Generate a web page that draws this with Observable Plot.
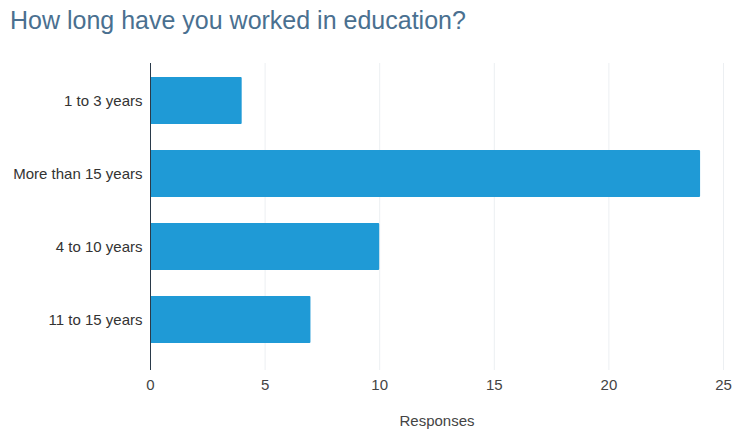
<!DOCTYPE html>
<html><head><meta charset="utf-8">
<script src="https://cdn.jsdelivr.net/npm/d3@7"></script>
<script src="https://cdn.jsdelivr.net/npm/@observablehq/plot@0.6"></script>
<style>
body{margin:0;background:#fff;font-family:"Liberation Sans",Arial,sans-serif;}
#title{height:45px;box-sizing:border-box;padding:5px 0 0 10px;font-size:25px;line-height:30px;color:#4a7090;}
</style></head>
<body>
<div id="title">How long have you worked in education?</div>
<div id="chart"></div>
<script>
const categories = ["1 to 3 years", "More than 15 years", "4 to 10 years", "11 to 15 years"];
const responses = [4, 24, 10, 7];
const xTicks = [0, 5, 10, 15, 20, 25];
const data = categories.map((c, i) => ({category: c, value: responses[i]}));

const chart = Plot.plot({
  width: 736,
  height: 386,
  marginLeft: 150,
  marginRight: 13,
  marginTop: 18,
  marginBottom: 61,
  style: {fontFamily: "'Liberation Sans', Arial, sans-serif", fontSize: "15px", color: "#333"},
  x: {domain: [0, 25], ticks: xTicks},
  y: {domain: categories, range: [18.5, 310.5], paddingInner: 0.36, paddingOuter: 0.18},
  marks: [
    Plot.gridX(xTicks, {stroke: "#eceff2", strokeOpacity: 1}),
    Plot.barX(data, {x: "value", y: "category", fill: "#1f9ad6", rx: 1}),
    Plot.ruleX([0], {stroke: "#2a3a4a", strokeWidth: 1}),
    Plot.axisX({ticks: xTicks, tickSize: 0, tickPadding: 9, fontSize: 15, fill: "#444",
      label: "Responses", labelAnchor: "center", labelArrow: "none", labelOffset: 55}),
    Plot.axisY({tickSize: 0, tickPadding: 8, fontSize: 15, fill: "#333", label: null})
  ]
});
document.getElementById("chart").appendChild(chart);
</script>
</body></html>
